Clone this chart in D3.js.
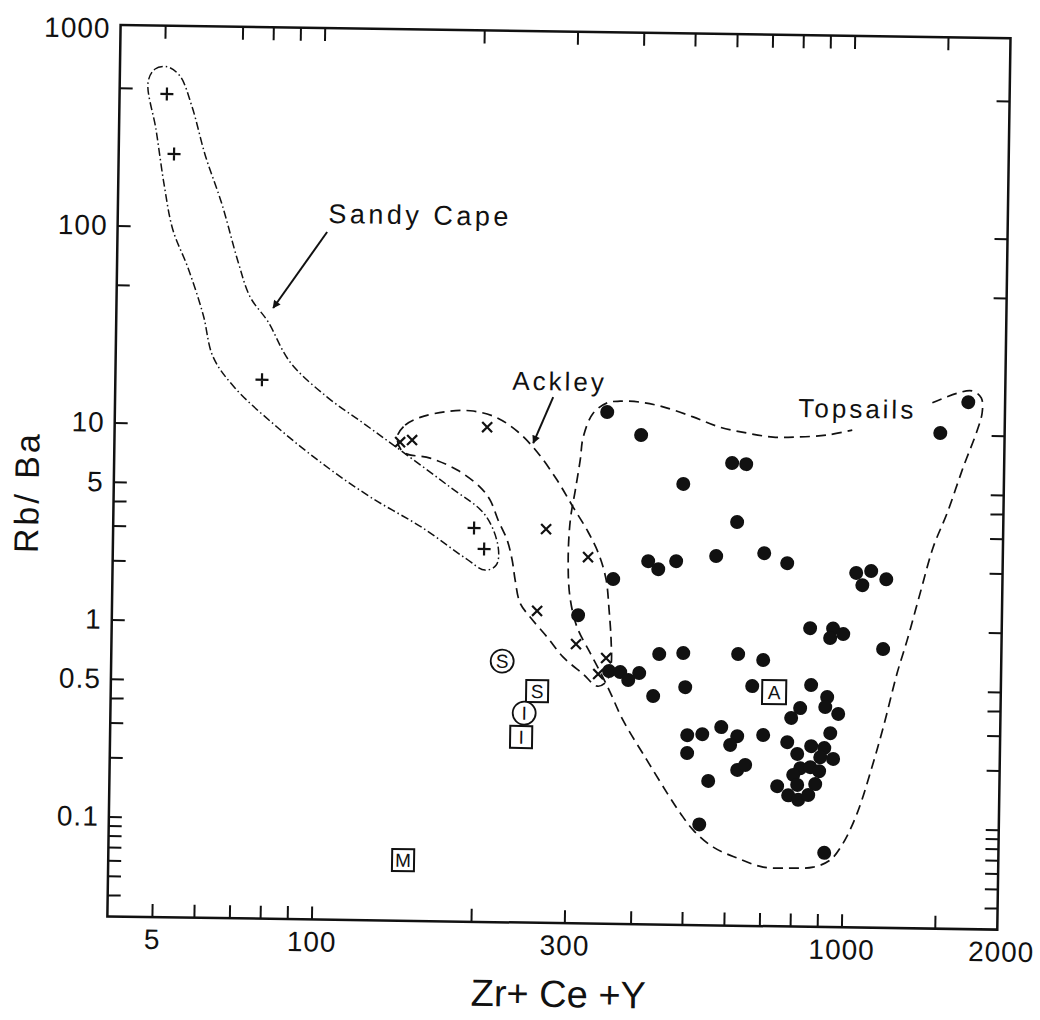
<!DOCTYPE html>
<html>
<head>
<meta charset="utf-8">
<script src="https://cdn.jsdelivr.net/npm/d3@7"></script>
<style>
  body { margin: 0; background: #fff; }
  svg text { font-family: "Liberation Sans", Arial, Helvetica, sans-serif; fill: #111; }
</style>
</head>
<body>
<div id="chart"></div>
<script>
// Rb/Ba against Zr+Ce+Y, both log scales. values

// Sandy Cape (+)
const sandyCapeX = [50.6, 52.4, 77.9, 197.6, 206.7];
const sandyCapeY = [469, 233, 16.9, 3.10, 2.43];

// Ackley (x)
const ackleyX = [142.5, 150.1, 207.8, 270.2, 324.8, 261.2, 310, 353.6, 342];
const ackleyY = [8.36, 8.58, 10.1, 3.10, 2.25, 1.19, 0.813, 0.694, 0.575];

// Topsails (filled dots)
const topsailsX = [349.7, 405.8, 603.6, 641.7, 488.9, 619.2, 421.8, 440.9, 476.3, 566.6,
  698, 771.7, 362.8, 1042, 1112, 1071, 1188, 1488, 1677, 856,
  946, 934.5, 989, 1177, 445.2, 494.2, 627.3, 699.7, 312.2, 358.5,
  376.3, 389.8, 408.6, 434.8, 499.5, 668.2, 863, 926, 919, 824,
  793, 972.5, 505.4, 539.5, 585.6, 628, 609.4, 703, 780.7, 940.6,
  866.5, 917.5, 816, 902, 954, 505.8, 629.4, 651.3, 827.5, 864.3,
  898.5, 803, 884, 817.6, 749.4, 555.3, 786.6, 821.7, 858.2, 535.6, 923.4];
const topsailsY = [12.31, 9.46, 6.93, 6.86, 5.38, 3.48, 2.17, 1.98, 2.18, 2.33,
  2.43, 2.17, 1.75, 1.96, 2.01, 1.70, 1.83, 10.2, 14.7, 1.02,
  1.02, 0.912, 0.958, 0.809, 0.734, 0.746, 0.744, 0.697, 1.14, 0.597,
  0.591, 0.539, 0.586, 0.449, 0.501, 0.513, 0.525, 0.457, 0.407, 0.400,
  0.356, 0.376, 0.286, 0.290, 0.316, 0.285, 0.257, 0.290, 0.268, 0.300,
  0.257, 0.252, 0.234, 0.226, 0.222, 0.232, 0.192, 0.204, 0.198, 0.201,
  0.192, 0.183, 0.165, 0.163, 0.160, 0.168, 0.144, 0.137, 0.145, 0.101, 0.074];

// reference compositions (boxed / circled letters)
const refLabels = ["S", "S", "I", "I", "M", "A"];
const refShapes = ["circle", "square", "circle", "square", "square", "square"];
const refX = [225.2, 262.6, 248.6, 245.7, 148.3, 735.3];
const refY = [0.658, 0.466, 0.360, 0.272, 0.0632, 0.48];

// field outlines, [Zr+Ce+Y, Rb/Ba]
const sandyEnvelope = [[46.6, 538], [48.0, 627], [50.6, 644], [53.5, 580], [56.5, 405], [60.0, 231],
  [64.8, 129.5], [69.7, 66.7], [73.6, 44.4], [79.7, 33.3], [87.9, 20.9], [103.5, 13.97],
  [121.2, 10.38], [142.6, 7.62], [177.6, 4.98], [207.1, 3.62], [219.7, 2.49], [218.1, 2.02],
  [207.8, 1.90], [190.5, 2.18], [158.3, 3.07], [125.6, 4.38], [102.1, 6.38], [83.4, 9.76],
  [69.3, 15.3], [62.9, 21.9], [60.1, 35.7], [56.1, 61.6], [52.4, 95.8], [50.3, 162], [48.4, 307]];
const ackleyEnvelope = [[140.7, 8.87], [145.5, 10.2], [155.2, 11.2], [172.9, 12.0], [192.8, 12.2],
  [215.1, 11.4], [237.8, 9.60], [258.6, 7.62], [282.5, 5.51], [303.4, 4.03], [324.4, 3.02],
  [340.8, 2.31], [351.9, 1.73], [357.1, 1.22], [360.9, 0.857], [361.4, 0.640], [354.2, 0.525],
  [340.8, 0.499], [320.4, 0.573], [293.4, 0.697], [273.3, 0.878], [253.5, 1.106], [242.5, 1.30],
  [237.0, 1.70], [233.6, 2.15], [228.3, 2.71], [219.2, 3.42], [211.5, 4.31], [202.3, 5.01],
  [183.0, 6.09], [162.5, 6.97], [144.5, 7.44]];
// open line: the gap on top is where the "Topsails" label sits
const topsailsEnvelope = [[1435, 14.5], [1597, 16.3], [1705, 16.8], [1774, 15.5], [1783, 13.1],
  [1747, 10.6], [1648, 6.88], [1541, 4.01], [1454, 2.69], [1378, 1.57], [1306, 0.902],
  [1253, 0.613], [1184, 0.325], [1122, 0.190], [1063, 0.1185], [1002, 0.0832], [948, 0.0681],
  [881, 0.0625], [797, 0.0616], [709, 0.062], [633, 0.0686], [570, 0.0776], [522, 0.0943],
  [493, 0.1148], [465, 0.1448], [425, 0.212], [382, 0.337], [360.5, 0.467], [345, 0.589],
  [330, 0.734], [311, 0.992], [301, 1.41], [298, 2.17], [300, 3.46], [306, 4.92], [312, 7.00],
  [315.6, 9.15], [329, 12.1], [349.5, 13.7], [369.6, 14.0], [403.4, 13.9], [445.8, 13.2],
  [508, 11.8], [572, 10.5], [643, 9.86], [720, 9.45], [799, 9.50], [910, 9.77], [1015, 10.4]];

// field names and their arrows
const fieldNames = ["Sandy Cape", "Ackley", "Topsails"];
const fieldNameX = [102.8, 231.1, 802];
const fieldNameY = [106.8, 15.7, 12.0];
const arrowFrom = [[102.4, 96.1], [276.3, 14.5]];
const arrowTo = [[81.4, 39.2], [254.1, 8.46]];

// axes
const xTicksBottom = [50, 60, 70, 80, 90, 100, 200, 300, 400, 500, 600, 700, 800, 900, 1000, 1500];
const xTicksTop = [50, 70, 80, 90, 100, 200, 300, 400, 500, 600, 700, 800, 900, 1000, 1500];
const xLabelValues = [50, 100, 300, 1000, 2000];
const xLabelText = ["5", "100", "300", "1000", "2000"];
const yTicks = [500, 100, 50, 10, 5, 4, 3, 2, 1, 0.5, 0.4, 0.3, 0.2, 0.1, 0.09, 0.08, 0.07, 0.06, 0.05, 0.04];
const yLabelValues = [1000, 100, 10, 5, 1, 0.5, 0.1];
const yLabelText = ["1000", "100", "10", "5", "1", "0.5", "0.1"];

const ink = "#111";

var svg = d3.select("#chart").append("svg")
    .attr("width", 1040)
    .attr("height", 1020);

// arrow head
svg.append("defs").append("marker")
    .attr("id", "head")
    .attr("viewBox", "0 0 10 10")
    .attr("refX", 9).attr("refY", 5)
    .attr("markerUnits", "userSpaceOnUse")
    .attr("markerWidth", 14).attr("markerHeight", 8)
    .attr("orient", "auto")
  .append("path")
    .attr("d", "M0,0L10,5L0,10z")
    .attr("fill", ink);

// the scan is slightly turned, so the whole plot is too
var g = svg.append("g").attr("transform", "rotate(0.85,555,473)");

var x = d3.scaleLog().domain([41.2, 1968]).range([114, 1004]);
var y = d3.scaleLog().domain([0.0311, 1042]).range([923, 31.5]);

// frame
g.append("rect")
    .attr("x", x.range()[0]).attr("y", y.range()[1])
    .attr("width", x.range()[1] - x.range()[0])
    .attr("height", y.range()[0] - y.range()[1])
    .attr("fill", "none").attr("stroke", ink).attr("stroke-width", 2.5);

// inward ticks on all four sides
function ticks(axis, tx, ty) {
  let a = g.append("g").attr("transform", "translate(" + tx + "," + ty + ")").call(axis);
  a.select(".domain").remove();
  a.selectAll(".tick line").attr("stroke", ink).attr("stroke-width", 2);
  return a;
}
ticks(d3.axisBottom(x).tickValues(xTicksBottom).tickSize(-13).tickFormat(""), 0, y.range()[0]);
ticks(d3.axisTop(x).tickValues(xTicksTop).tickSize(-13).tickFormat(""), 0, y.range()[1]);
ticks(d3.axisLeft(y).tickValues(yTicks).tickSize(-13).tickFormat(""), x.range()[0], 0);
ticks(d3.axisRight(y).tickValues(yTicks).tickSize(-13).tickFormat(""), x.range()[1], 0);

// tick labels
let xl = ticks(d3.axisBottom(x).tickValues(xLabelValues).tickSize(0).tickPadding(12)
    .tickFormat(d => xLabelText[xLabelValues.indexOf(d)]), 0, y.range()[0]);
xl.selectAll("text").attr("font-size", 28).attr("letter-spacing", 1).attr("fill", ink);
let yl = ticks(d3.axisLeft(y).tickValues(yLabelValues).tickSize(0).tickPadding(10)
    .tickFormat(d => yLabelText[yLabelValues.indexOf(d)]), x.range()[0], 0);
yl.selectAll("text").attr("font-size", 28).attr("letter-spacing", 1).attr("fill", ink);

// axis titles
g.append("text")
    .attr("x", 566).attr("y", 1007)
    .attr("text-anchor", "middle")
    .attr("font-size", 38)
    .text("Zr+ Ce +Y");
g.append("text")
    .attr("transform", "translate(27,500) rotate(-90)")
    .attr("text-anchor", "middle")
    .attr("dominant-baseline", "central")
    .attr("font-size", 34)
    .attr("letter-spacing", 3)
    .text("Rb/ Ba");

// field outlines
var line = d3.line().x(d => x(d[0])).y(d => y(d[1]));
g.append("path")
    .datum(sandyEnvelope)
    .attr("d", line.curve(d3.curveCatmullRomClosed.alpha(0.5)))
    .attr("fill", "none").attr("stroke", ink).attr("stroke-width", 1.5)
    .attr("stroke-dasharray", "8,3,1.5,3");
g.append("path")
    .datum(ackleyEnvelope)
    .attr("d", line.curve(d3.curveCatmullRomClosed.alpha(0.5)))
    .attr("fill", "none").attr("stroke", ink).attr("stroke-width", 1.7)
    .attr("stroke-dasharray", "10,6");
g.append("path")
    .datum(topsailsEnvelope)
    .attr("d", line.curve(d3.curveCatmullRom.alpha(0.5)))
    .attr("fill", "none").attr("stroke", ink).attr("stroke-width", 1.7)
    .attr("stroke-dasharray", "10,6");

// point symbols
const plusShape = { draw(ctx, size) { let r = Math.sqrt(size) / 2; ctx.moveTo(-r, 0); ctx.lineTo(r, 0); ctx.moveTo(0, -r); ctx.lineTo(0, r); } };
const timesShape = { draw(ctx, size) { let r = Math.sqrt(size) / 2; ctx.moveTo(-r, -r); ctx.lineTo(r, r); ctx.moveTo(-r, r); ctx.lineTo(r, -r); } };

g.append("g").selectAll("path")
    .data(sandyCapeX.map((v, i) => [v, sandyCapeY[i]]))
  .enter().append("path")
    .attr("transform", d => "translate(" + x(d[0]) + "," + y(d[1]) + ")")
    .attr("d", d3.symbol().type(plusShape).size(169))
    .attr("stroke", ink).attr("stroke-width", 2.2).attr("fill", "none");

g.append("g").selectAll("path")
    .data(ackleyX.map((v, i) => [v, ackleyY[i]]))
  .enter().append("path")
    .attr("transform", d => "translate(" + x(d[0]) + "," + y(d[1]) + ")")
    .attr("d", d3.symbol().type(timesShape).size(100))
    .attr("stroke", ink).attr("stroke-width", 2.2).attr("fill", "none");

g.append("g").selectAll("circle")
    .data(topsailsX.map((v, i) => [v, topsailsY[i]]))
  .enter().append("circle")
    .attr("cx", d => x(d[0])).attr("cy", d => y(d[1]))
    .attr("r", 7)
    .attr("fill", ink);

// reference boxes / circles
var refs = g.append("g").selectAll("g")
    .data(refLabels.map((t, i) => ({ t: t, shape: refShapes[i], v: [refX[i], refY[i]] })))
  .enter().append("g")
    .attr("transform", d => "translate(" + x(d.v[0]) + "," + y(d.v[1]) + ")");
refs.filter(d => d.shape === "circle").append("circle")
    .attr("r", 11.5)
    .attr("fill", "#fff").attr("stroke", ink).attr("stroke-width", 1.8);
refs.filter(d => d.shape === "square").append("rect")
    .attr("x", d => d.t === "A" ? -12 : -11).attr("y", d => d.t === "A" ? -12 : -11)
    .attr("width", d => d.t === "A" ? 24 : 22).attr("height", d => d.t === "A" ? 24 : 22)
    .attr("fill", "#fff").attr("stroke", ink).attr("stroke-width", 2);
refs.append("text")
    .attr("text-anchor", "middle")
    .attr("dy", "0.36em")
    .attr("font-size", 19)
    .text(d => d.t);

// field names and arrows
g.append("g").selectAll("text")
    .data(fieldNames)
  .enter().append("text")
    .attr("x", (d, i) => x(fieldNameX[i]))
    .attr("y", (d, i) => y(fieldNameY[i]))
    .attr("font-size", (d, i) => i === 0 ? 27 : 26)
    .attr("letter-spacing", (d, i) => i === 0 ? 3.5 : 3)
    .text(d => d);

g.append("g").selectAll("line")
    .data(arrowFrom)
  .enter().append("line")
    .attr("x1", d => x(d[0])).attr("y1", d => y(d[1]))
    .attr("x2", (d, i) => x(arrowTo[i][0])).attr("y2", (d, i) => y(arrowTo[i][1]))
    .attr("stroke", ink).attr("stroke-width", 2)
    .attr("marker-end", "url(#head)");
</script>
</body>
</html>
